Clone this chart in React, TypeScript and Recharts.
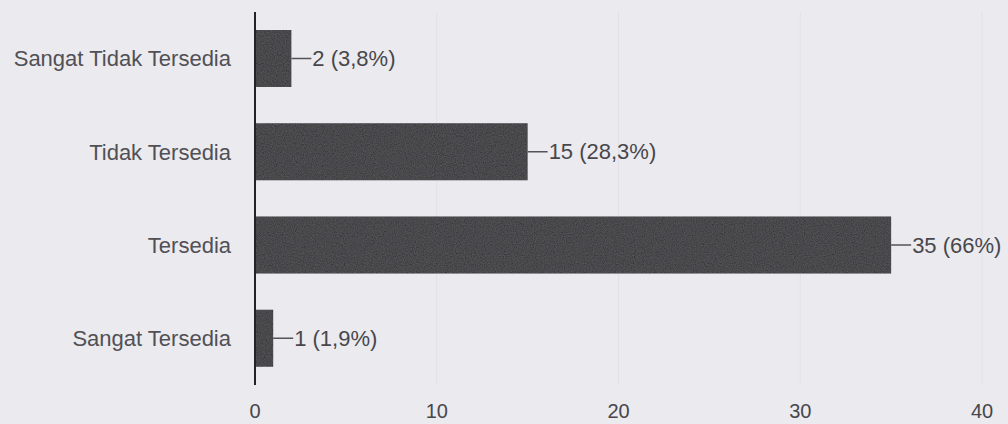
import React from 'react';
import { BarChart, Bar, XAxis, YAxis, CartesianGrid, LabelList } from 'recharts';

const categories = ['Sangat Tidak Tersedia', 'Tidak Tersedia', 'Tersedia', 'Sangat Tersedia'];
const counts = [2, 15, 35, 1];
const percents = ['3,8%', '28,3%', '66%', '1,9%'];
const xTicks = [0, 10, 20, 30, 40];

const data = categories.map((name, i) => ({ name, count: counts[i], pct: percents[i] }));

const FONT = '"Liberation Sans", Arial, sans-serif';

function ValueLabel(props: any) {
  const { x, y, width, height, index } = props;
  const endX = x + width;
  const midY = y + height / 2;
  const row = data[index];
  return (
    <g>
      <line x1={endX} y1={midY} x2={endX + 20} y2={midY} stroke="#555357" strokeWidth={1.5} />
      <text
        x={endX + 21}
        y={midY}
        dominantBaseline="central"
        fill="#48474c"
        fontSize={22}
        fontFamily={FONT}
      >
        {`${row.count} (${row.pct})`}
      </text>
    </g>
  );
}

export default function App() {
  return (
    <div style={{ position: 'absolute', left: 0, top: 0, width: 1008, height: 424, background: '#ebeaef' }}>
      <BarChart
        width={1008}
        height={424}
        data={data}
        layout="vertical"
        margin={{ top: 12, right: 26, bottom: 0, left: 0 }}
      >
        <defs>
          <filter id="grain" x="0" y="0" width="100%" height="100%">
            <feTurbulence type="fractalNoise" baseFrequency="0.9" numOctaves={2} seed={3} result="noise" />
            <feColorMatrix
              in="noise"
              type="matrix"
              values="0 0 0 0 0.32  0 0 0 0 0.32  0 0 0 0 0.33  0 0 0 0.3 0"
              result="speck"
            />
            <feComposite in="speck" in2="SourceGraphic" operator="in" result="clipped" />
            <feMerge>
              <feMergeNode in="SourceGraphic" />
              <feMergeNode in="clipped" />
            </feMerge>
          </filter>
        </defs>
        <CartesianGrid horizontal={false} stroke="#e2e1e6" strokeWidth={1} />
        <XAxis
          type="number"
          domain={[0, 40]}
          ticks={xTicks}
          axisLine={false}
          tickLine={false}
          tickSize={0}
          tickMargin={19}
          height={39}
          tick={{ fill: '#47464b', fontSize: 20, fontFamily: FONT }}
        />
        <YAxis
          type="category"
          dataKey="name"
          width={255}
          axisLine={{ stroke: '#232224', strokeWidth: 2 }}
          tickLine={false}
          tickSize={0}
          tickMargin={24}
          tick={{ fill: '#505055', fontSize: 22, fontFamily: FONT }}
        />
        <Bar dataKey="count" fill="#2c2a2e" barSize={57} isAnimationActive={false} style={{ filter: 'url(#grain)' }}>
          <LabelList dataKey="count" content={<ValueLabel />} />
        </Bar>
      </BarChart>
    </div>
  );
}
